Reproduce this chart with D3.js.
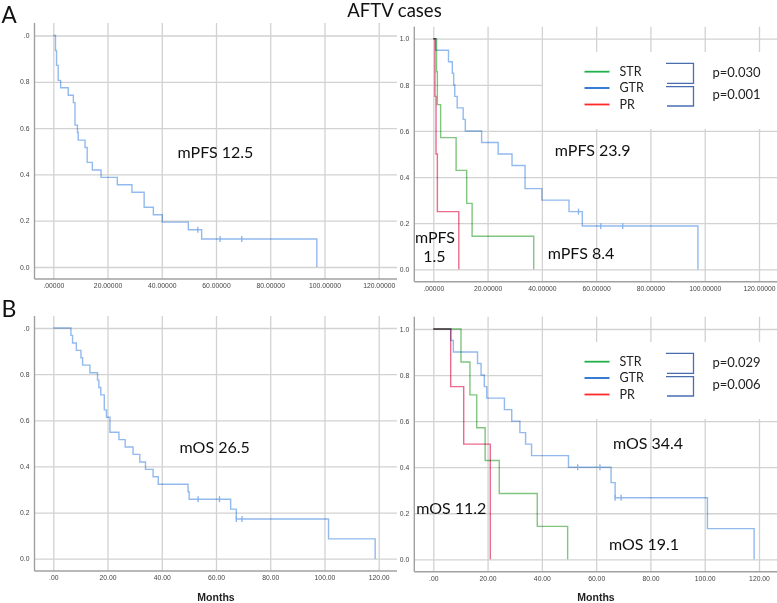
<!DOCTYPE html>
<html><head><meta charset="utf-8">
<script src="https://cdn.jsdelivr.net/npm/d3@7"></script>
<style>body{margin:0;background:#fff} svg{display:block}</style>
</head><body>
<svg id="c" width="777" height="603"></svg>
<script>
// ---------- DATA ----------
const xTickValues = [0, 20, 40, 60, 80, 100, 120];
const xTickLabelsPFS = [".00000", "20.00000", "40.00000", "60.00000", "80.00000", "100.00000", "120.00000"];
const xTickLabelsOS = [".00", "20.00", "40.00", "60.00", "80.00", "100.00", "120.00"];
const yTickValues = [0, 0.2, 0.4, 0.6, 0.8, 1.0];
const yTickLabelsLeft = ["0.0", "0.2", "0.4", "0.6", "0.8", ".0"];
const yTickLabelsRight = ["0.0", "0.2", "0.4", "0.6", "0.8", "1.0"];
const groups = ["STR", "GTR", "PR"];
const pValuesPFS = ["p=0.030", "p=0.001"];
const pValuesOS = ["p=0.029", "p=0.006"];

// A left: all cases PFS
const pfsAllTime = [0.8, 1.2, 1.8, 2.7, 5.5, 7.4, 8.0, 8.9, 9.2, 11.7, 12.5, 14.4, 17.6, 23.6, 29.0, 33.5, 36.9, 40.2, 49.8, 54.7, 97.2];
const pfsAllSurv = [0.935, 0.871, 0.806, 0.774, 0.742, 0.710, 0.613, 0.581, 0.548, 0.516, 0.452, 0.419, 0.387, 0.355, 0.323, 0.258, 0.226, 0.194, 0.161, 0.121, 0];
const pfsAllCensTime = [53.3, 61.5, 69.5];
const pfsAllCensSurv = [0.161, 0.121, 0.121];

// A right: PFS by resection
const pfsGtrTime = [0.9, 5.6, 7.0, 7.5, 7.9, 8.8, 11.0, 11.8, 17.8, 23.9, 29.0, 33.8, 40.0, 50.0, 54.9, 97.5];
const pfsGtrSurv = [0.95, 0.90, 0.85, 0.80, 0.75, 0.70, 0.65, 0.60, 0.55, 0.50, 0.45, 0.35, 0.30, 0.25, 0.1875, 0];
const pfsGtrCensTime = [53.5, 61.7, 69.8];
const pfsGtrCensSurv = [0.25, 0.1875, 0.1875];
const pfsStrTime = [1.2, 1.5, 2.7, 8.4, 12.3, 14.3, 37.0];
const pfsStrSurv = [0.857, 0.714, 0.571, 0.429, 0.286, 0.143, 0];
const pfsPrTime = [0.6, 1.0, 1.5, 9.4];
const pfsPrSurv = [0.75, 0.5, 0.25, 0];

// B left: all cases OS
const osAllTime = [6.5, 7.1, 8.5, 10.2, 10.8, 13.5, 16.3, 16.8, 17.5, 18.8, 19.6, 20.9, 24.2, 26.5, 29.4, 31.9, 34.0, 36.8, 38.7, 49.7, 50.1, 65.4, 67.5, 101.5, 118.7];
const osAllSurv = [0.968, 0.935, 0.903, 0.871, 0.839, 0.806, 0.774, 0.742, 0.710, 0.645, 0.613, 0.548, 0.516, 0.484, 0.452, 0.419, 0.387, 0.355, 0.323, 0.290, 0.258, 0.215, 0.172, 0.086, 0];
const osAllCensTime = [53.4, 61.3, 67.5, 69.6];
const osAllCensSurv = [0.258, 0.258, 0.172, 0.172];

// B right: OS by resection
const osGtrTime = [6.5, 7.4, 16.3, 17.6, 18.8, 19.7, 26.2, 28.9, 31.9, 34.0, 36.2, 49.8, 65.5, 67.0, 101.0, 118.2];
const osGtrSurv = [0.95, 0.90, 0.85, 0.80, 0.75, 0.70, 0.65, 0.60, 0.55, 0.50, 0.45, 0.40, 0.333, 0.267, 0.133, 0];
const osGtrCensTime = [53.2, 61.4, 67.0, 69.2];
const osGtrCensSurv = [0.40, 0.40, 0.267, 0.267];
const osStrTime = [10.2, 13.5, 16.0, 19.1, 24.3, 38.3, 49.5];
const osStrSurv = [0.857, 0.714, 0.571, 0.429, 0.286, 0.143, 0];
const osPrTime = [6.4, 11.2, 21.0];
const osPrSurv = [0.75, 0.5, 0];

// ---------- STYLE ----------
const curveBlue = "#86b2ec", curveGreen = "#72c072", curveRed = "#ea5a80";
const legendColors = {STR: "#22b04a", GTR: "#1f6fcf", PR: "#ff2a2a"};
const gridColor = "#d2d2d2", axisColor = "#a0a0a0";
const annFont = "Lato, 'Open Sans', sans-serif";
const tickFont = "'Liberation Sans', Arial, sans-serif";

const svg = d3.select("#c");

const panels = [
  {xr: [53.3, 378.7], yr: [267, 35.5], top: 23, bottom: 279, left: 34.5, right: 397,
   xLabels: xTickLabelsPFS, yLabels: yTickLabelsLeft,
   curves: [{t: pfsAllTime, s: pfsAllSurv, ct: pfsAllCensTime, cs: pfsAllCensSurv, c: curveBlue}]},
  {xr: [433.3, 759], yr: [269.3, 38.7], top: 26.7, bottom: 281.7, left: 414.3, right: 777,
   xLabels: xTickLabelsPFS, yLabels: yTickLabelsRight, legendBox: [543, 52, 234, 77],
   curves: [{t: pfsGtrTime, s: pfsGtrSurv, ct: pfsGtrCensTime, cs: pfsGtrCensSurv, c: curveBlue},
            {t: pfsStrTime, s: pfsStrSurv, ct: [], cs: [], c: curveGreen},
            {t: pfsPrTime, s: pfsPrSurv, ct: [], cs: [], c: curveRed}]},
  {xr: [53.3, 378.7], yr: [558.7, 328], top: 316, bottom: 571, left: 34.5, right: 397,
   xLabels: xTickLabelsOS, yLabels: yTickLabelsLeft,
   curves: [{t: osAllTime, s: osAllSurv, ct: osAllCensTime, cs: osAllCensSurv, c: curveBlue}]},
  {xr: [433.3, 759], yr: [559.3, 329], top: 316.7, bottom: 571.7, left: 414.3, right: 777,
   xLabels: xTickLabelsOS, yLabels: yTickLabelsRight, legendBox: [543, 342, 234, 77],
   curves: [{t: osGtrTime, s: osGtrSurv, ct: osGtrCensTime, cs: osGtrCensSurv, c: curveBlue},
            {t: osStrTime, s: osStrSurv, ct: [], cs: [], c: curveGreen},
            {t: osPrTime, s: osPrSurv, ct: [], cs: [], c: curveRed}]}
];

panels.forEach(p => {
  const x = d3.scaleLinear().domain([0, 120]).range(p.xr);
  const y = d3.scaleLinear().domain([0, 1]).range(p.yr);
  const g = svg.append("g");

  const xa = g.append("g").attr("transform", `translate(0,${p.bottom})`)
    .call(d3.axisBottom(x).tickValues(xTickValues)
      .tickFormat((d, i) => p.xLabels[i]).tickSize(-(p.bottom - p.top)).tickPadding(4));
  xa.select(".domain").remove();
  xa.selectAll("line").attr("stroke", gridColor).attr("stroke-width", 1.3);
  xa.selectAll("text").attr("font-family", tickFont).attr("font-size", 6.8).attr("fill", "#444");

  const ya = g.append("g").attr("transform", `translate(${p.left},0)`)
    .call(d3.axisLeft(y).tickValues(yTickValues)
      .tickFormat((d, i) => p.yLabels[i]).tickSize(-(p.right - p.left)).tickPadding(5));
  ya.select(".domain").remove();
  ya.selectAll("line").attr("stroke", gridColor).attr("stroke-width", 1.3);
  ya.selectAll("text").attr("font-family", tickFont).attr("font-size", 6.8).attr("fill", "#444");

  if (p.legendBox) {
    g.append("rect").attr("x", p.legendBox[0]).attr("y", p.legendBox[1])
      .attr("width", p.legendBox[2]).attr("height", p.legendBox[3]).attr("fill", "#fff");
  }

  g.append("line").attr("x1", p.left).attr("x2", p.left).attr("y1", p.top).attr("y2", p.bottom)
    .attr("stroke", axisColor).attr("stroke-width", 1.4);
  g.append("line").attr("x1", p.left).attr("x2", p.right).attr("y1", p.bottom).attr("y2", p.bottom)
    .attr("stroke", axisColor).attr("stroke-width", 1.4);

  const line = d3.line().x(d => x(d[0])).y(d => y(d[1])).curve(d3.curveStepAfter);
  p.curves.forEach(cv => {
    const pts = [[0, 1]].concat(cv.t.map((t, i) => [t, cv.s[i]]));
    g.append("path").attr("d", line(pts)).attr("fill", "none")
      .attr("stroke", cv.c).attr("stroke-width", 1.4).attr("stroke-opacity", 0.9)
      .style("mix-blend-mode", "multiply");
    cv.ct.forEach((t, i) => {
      g.append("line").attr("x1", x(t)).attr("x2", x(t))
        .attr("y1", y(cv.cs[i]) - 3).attr("y2", y(cv.cs[i]) + 3)
        .attr("stroke", cv.c).attr("stroke-width", 1.3);
    });
  });
});

// ---------- TEXT ----------
function txt(s, x, y, size, opts = {}) {
  return svg.append("text").attr("x", x).attr("y", y).text(s)
    .attr("font-family", opts.family || annFont).attr("font-size", size)
    .attr("fill", opts.fill || "#111").attr("text-anchor", opts.anchor || "start")
    .attr("font-weight", opts.weight || "normal");
}
txt("AFTV cases", 394.5, 17, 18.5, {anchor: "middle"});
txt("A", 1.5, 23, 22.5);
txt("B", 1.5, 316.5, 23);

txt("mPFS 12.5", 215.5, 158, 16, {anchor: "middle"});
txt("mPFS 23.9", 592.7, 155.5, 16, {anchor: "middle"});
txt("mPFS", 435, 243, 16, {anchor: "middle"});
txt("1.5", 434.3, 261.5, 16, {anchor: "middle"});
txt("mPFS 8.4", 581, 259, 16, {anchor: "middle"});
txt("mOS 26.5", 214.7, 452.5, 16, {anchor: "middle"});
txt("mOS 34.4", 648, 448.5, 16, {anchor: "middle"});
txt("mOS 11.2", 451.3, 514, 16, {anchor: "middle"});
txt("mOS 19.1", 644, 550, 16, {anchor: "middle"});

txt("Months", 216, 600.5, 10.5, {anchor: "middle", family: tickFont, weight: "bold", fill: "#222"});
txt("Months", 596, 601, 10.5, {anchor: "middle", family: tickFont, weight: "bold", fill: "#222"});

// ---------- LEGENDS ----------
function legend(y0, pvals) {
  const rowY = [y0, y0 + 16.3, y0 + 32.8];
  groups.forEach((gname, i) => {
    svg.append("line").attr("x1", 584.5).attr("x2", 609.5).attr("y1", rowY[i]).attr("y2", rowY[i])
      .attr("stroke", legendColors[gname]).attr("stroke-width", 1.8);
    txt(gname, 619.5, rowY[i] + 4.3, 12.5, {fill: "#222"});
  });
  const bc = "#4a6db0";
  const br = (ya, yb) => svg.append("path")
    .attr("d", `M666,${ya} H693.5 V${yb} H667`).attr("fill", "none")
    .attr("stroke", bc).attr("stroke-width", 1.3);
  br(y0 - 8.3, y0 + 11.7);
  br(y0 + 15, y0 + 34.3);
  txt(pvals[0], 712.5, y0 + 5.2, 13, {fill: "#222"});
  txt(pvals[1], 712.5, y0 + 27.2, 13, {fill: "#222"});
}
legend(71.7, pValuesPFS);
legend(361.7, pValuesOS);
</script>
</body></html>
